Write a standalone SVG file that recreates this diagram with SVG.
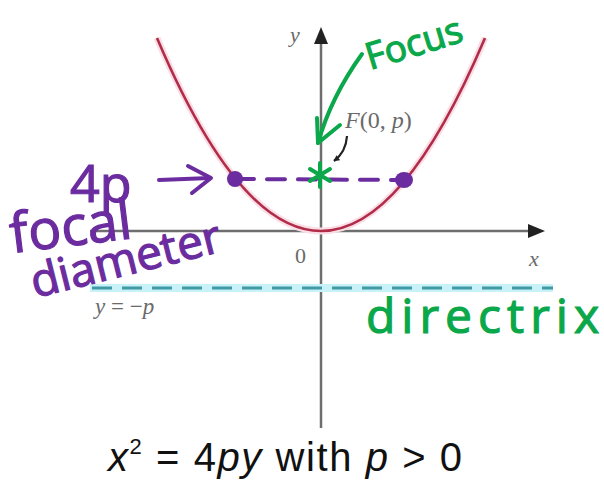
<svg xmlns="http://www.w3.org/2000/svg" width="604" height="482" viewBox="0 0 604 482">
<style>
.axis{stroke:#6e6e6e;stroke-width:2.5;fill:none}
.lbl{font-family:"Liberation Serif",serif;fill:#6a6a6a}
.hand-p{font-family:"Open Sans",sans-serif;fill:#6b2c9f;stroke:#6b2c9f;stroke-width:1.2}
.hand-g{font-family:"Open Sans",sans-serif;fill:#0aa84a;stroke:#0aa84a;stroke-width:1.2}
.pstroke{stroke:#6b2c9f;stroke-width:4;fill:none;stroke-linecap:round;stroke-linejoin:round}
.gstroke{stroke:#0aa84a;stroke-width:4;fill:none;stroke-linecap:round;stroke-linejoin:round}
</style>
<defs>
<marker id="ah" viewBox="0 0 10 10" refX="9" refY="5" markerWidth="6" markerHeight="6" orient="auto" markerUnits="userSpaceOnUse">
<path d="M0,0 L10,5 L0,10 z" fill="#222"/>
</marker>
</defs>
<rect width="604" height="482" fill="#ffffff"/>

<g id="axes">
<line class="axis" x1="90" y1="231" x2="530" y2="231"/>
<path d="M528,224 L545,231 L528,238 z" fill="#222"/>
<line class="axis" x1="321" y1="428" x2="321" y2="42"/>
<path d="M314,44 L321,27 L328,44 z" fill="#222"/>
<text class="lbl" x="290" y="42" font-size="22" font-style="italic">y</text>
<text class="lbl" x="529" y="266" font-size="22" font-style="italic">x</text>
<text class="lbl" x="295" y="263" font-size="22">0</text>
</g>

<g id="directrix-line">
<line x1="90" y1="288" x2="553" y2="288" stroke="#c9f1f8" stroke-width="8"/>
<line x1="92" y1="288" x2="553" y2="288" stroke="#3f9aa6" stroke-width="3" stroke-dasharray="20 10"/>
<text class="lbl" x="95" y="314" font-size="23" fill="#808080"><tspan font-style="italic">y</tspan> = −<tspan font-style="italic">p</tspan></text>
</g>

<g id="parabola">
<path d="M157,38 Q321,424 485,38" fill="none" stroke="#fbdde6" stroke-width="7"/>
<path d="M157,38 Q321,424 485,38" fill="none" stroke="#b02c48" stroke-width="2.6"/>
</g>

<g id="focus-label">
<text class="lbl" x="345" y="128" font-size="24"><tspan font-style="italic">F</tspan>(0, <tspan font-style="italic">p</tspan>)</text>
</g>

<g id="connectors">
<path d="M347,136 Q346,152 334,161" fill="none" stroke="#222" stroke-width="2.2" marker-end="url(#ah)"/>
<path class="gstroke" d="M362,54 Q331,97 318,143"/>
<path class="gstroke" d="M317,118 L318,143 L340,125"/>
<line class="pstroke" x1="236" y1="179" x2="404" y2="180" stroke-dasharray="18 13" stroke-linecap="butt"/>
<path class="pstroke" d="M159,180 L210,178"/>
<path class="pstroke" d="M188,166 L211,178 L192,193"/>
</g>

<g id="focal-points">
<circle cx="235" cy="179" r="8" fill="#6b2c9f"/>
<ellipse cx="404" cy="180" rx="9" ry="8" fill="#6b2c9f"/>
</g>

<g id="focus-star">
<path class="gstroke" d="M320,163 L320,187 M310,169 L330,181 M330,169 L310,181"/>
</g>

<g id="annotations">
<text class="hand-g" x="370" y="70" font-size="37" transform="rotate(-17 370 70)">Focus</text>
<text class="hand-p" x="70" y="202" font-size="52">4p</text>
<text class="hand-p" x="12" y="253" font-size="55" transform="rotate(-7 12 253)">focal</text>
<text class="hand-p" x="35" y="298" font-size="46" transform="rotate(-14 35 298)">diameter</text>
<text class="hand-g" x="366" y="333" font-size="48" textLength="233" lengthAdjust="spacing">directrix</text>
</g>

<g id="caption">
<text x="108" y="471" font-family="Liberation Sans, Arial, sans-serif" font-size="40" fill="#111" textLength="354" lengthAdjust="spacing"><tspan font-style="italic">x</tspan><tspan font-size="22" dy="-17">2</tspan><tspan dy="17"> = 4</tspan><tspan font-style="italic">py</tspan> with <tspan font-style="italic">p</tspan> &gt; 0</text>
</g>
</svg>
